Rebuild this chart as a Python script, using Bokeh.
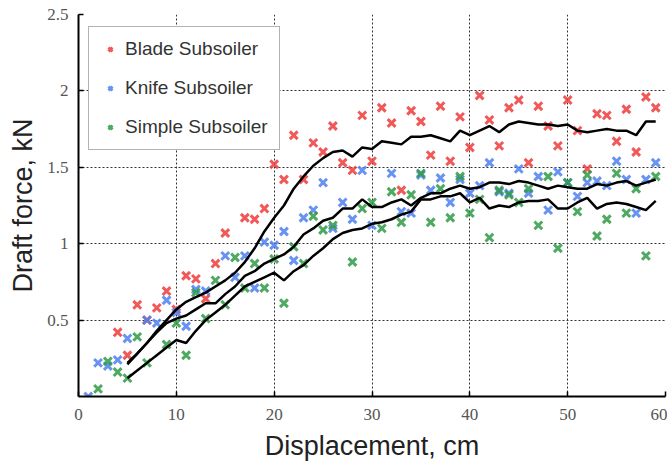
from bokeh.plotting import figure
from bokeh.models import FixedTicker, Legend
from bokeh.embed import file_html
from bokeh.resources import INLINE

# Blade Subsoiler (red)
blade_x = [4, 5, 6, 7, 8, 9, 10, 11, 12, 13, 14, 15, 17, 18, 19, 20, 21, 22, 23, 24, 25, 26,
           27, 28, 29, 30, 31, 32, 33, 34, 35, 36, 37, 38, 39, 40, 41, 42, 43, 44, 45, 46,
           47, 48, 49, 50, 51, 52, 53, 54, 55, 56, 57, 58, 59]
blade_y = [0.42, 0.27, 0.60, 0.50, 0.58, 0.69, 0.57, 0.79, 0.77, 0.64, 0.87, 1.07,
           1.17, 1.16, 1.23, 1.52, 1.42, 1.71, 1.42, 1.66, 1.60, 1.77,
           1.53, 1.48, 1.84, 1.54, 1.89, 1.79, 1.35, 1.87, 1.80, 1.58,
           1.90, 1.54, 1.83, 1.63, 1.97, 1.81, 1.64, 1.89, 1.94, 1.53,
           1.90, 1.77, 1.64, 1.94, 1.74, 1.49, 1.85, 1.84, 1.67, 1.88,
           1.60, 1.96, 1.89]

# Knife Subsoiler (blue)
knife_x = [1, 2, 3, 4, 5, 7, 8, 9, 10, 11, 12, 13, 15, 16, 17, 18, 19, 20, 21, 22, 23, 24,
           25, 26, 27, 28, 29, 30, 32, 33, 34, 35, 36, 37, 38, 39, 40, 41, 42, 43, 44, 45,
           46, 47, 48, 49, 50, 51, 52, 53, 54, 55, 56, 57, 58, 59]
knife_y = [0.00, 0.22, 0.20, 0.24, 0.38, 0.50, 0.48, 0.63, 0.55, 0.46, 0.70, 0.69,
           0.92, 0.78, 0.92, 0.71, 1.01, 0.99, 1.08, 0.89, 1.17, 1.22,
           1.40, 1.10, 1.27, 1.16, 1.48, 1.12, 1.46, 1.21, 1.20, 1.45,
           1.35, 1.43, 1.27, 1.42, 1.33, 1.38, 1.53, 1.34, 1.33, 1.49,
           1.33, 1.44, 1.22, 1.47, 1.40, 1.31, 1.40, 1.41, 1.38, 1.54,
           1.42, 1.20, 1.42, 1.53]

# Simple Subsoiler (green)
simple_x = [2, 3, 4, 5, 6, 7, 9, 10, 11, 12, 13, 14, 15, 16, 17, 18, 19, 20, 21, 22, 23,
            24, 25, 26, 28, 29, 30, 31, 32, 33, 34, 35, 36, 37, 38, 39, 40, 41, 42, 43,
            44, 45, 46, 47, 48, 49, 50, 51, 52, 53, 54, 55, 56, 57, 58, 59]
simple_y = [0.05, 0.23, 0.16, 0.12, 0.39, 0.22, 0.34, 0.48, 0.27, 0.68, 0.51, 0.76,
            0.60, 0.91, 0.71, 0.87, 0.71, 0.90, 0.61, 0.98, 0.87,
            1.18, 1.09, 1.12, 0.88, 1.23, 1.27, 1.10, 1.34, 1.14, 1.32,
            1.46, 1.14, 1.36, 1.17, 1.44, 1.20, 1.29, 1.04, 1.35,
            1.32, 1.27, 1.36, 1.12, 1.44, 0.97, 1.40, 1.21, 1.45, 1.05,
            1.16, 1.46, 1.20, 1.36, 0.92, 1.44]

# Trend lines (x = 5 .. 59)
trend_x = list(range(5, 60))
blade_trend = [0.21, 0.28, 0.35, 0.43, 0.50, 0.57, 0.62, 0.65, 0.68, 0.72,
               0.76, 0.81, 0.88, 0.97, 1.08, 1.17, 1.25, 1.36, 1.44, 1.51,
               1.56, 1.60, 1.61, 1.57, 1.63, 1.62, 1.67, 1.66, 1.65, 1.70,
               1.70, 1.71, 1.69, 1.67, 1.74, 1.71, 1.74, 1.77, 1.73, 1.78,
               1.80, 1.79, 1.78, 1.78, 1.77, 1.78, 1.74, 1.73, 1.74, 1.75,
               1.74, 1.74, 1.71, 1.80, 1.80]
knife_trend = [0.22, 0.28, 0.35, 0.42, 0.48, 0.51, 0.53, 0.57, 0.61, 0.61,
               0.67, 0.72, 0.79, 0.82, 0.87, 0.90, 0.93, 0.98, 1.06, 1.10,
               1.15, 1.17, 1.23, 1.23, 1.29, 1.24, 1.24, 1.27, 1.29, 1.25,
               1.30, 1.33, 1.33, 1.36, 1.38, 1.36, 1.37, 1.40, 1.40, 1.39,
               1.41, 1.40, 1.38, 1.36, 1.38, 1.37, 1.36, 1.36, 1.39, 1.38,
               1.40, 1.41, 1.38, 1.40, 1.42]
simple_trend = [0.12, 0.17, 0.22, 0.27, 0.32, 0.37, 0.35, 0.43, 0.50, 0.55,
                0.60, 0.66, 0.72, 0.75, 0.78, 0.81, 0.76, 0.82, 0.86, 0.92,
                0.97, 1.03, 1.07, 1.09, 1.10, 1.13, 1.14, 1.16, 1.19, 1.21,
                1.29, 1.29, 1.31, 1.31, 1.33, 1.27, 1.30, 1.23, 1.25, 1.24,
                1.27, 1.28, 1.28, 1.29, 1.23, 1.23, 1.27, 1.30, 1.23, 1.26,
                1.27, 1.26, 1.24, 1.22, 1.28]

x_ticks = [0, 10, 20, 30, 40, 50, 60]
y_ticks = [0.5, 1, 1.5, 2, 2.5]
y_labels = {0.5: "0.5", 1: "1", 1.5: "1.5", 2: "2", 2.5: "2.5"}

p = figure(width=667, height=463, x_range=(0, 60), y_range=(0, 2.5),
           output_backend="svg", toolbar_location=None,
           min_border_left=78, min_border_right=2, min_border_top=14, min_border_bottom=66)
p.background_fill_color = "white"
p.border_fill_color = "white"
p.outline_line_color = None

# grids
p.xgrid.ticker = FixedTicker(ticks=x_ticks)
p.ygrid.ticker = FixedTicker(ticks=y_ticks)
for g in (p.xgrid, p.ygrid):
    g.grid_line_color = "#333333"
    g.grid_line_dash = "2 2"
    g.grid_line_width = 1

# axes
p.xaxis.ticker = FixedTicker(ticks=x_ticks)
p.yaxis.ticker = FixedTicker(ticks=y_ticks)
p.yaxis.major_label_overrides = y_labels
for ax in (p.xaxis, p.yaxis):
    ax.axis_line_color = "black"
    ax.axis_line_width = 2
    ax.major_tick_in = 5
    ax.major_tick_out = 0
    ax.major_tick_line_color = "black"
    ax.major_tick_line_width = 1.5
    ax.minor_tick_line_color = None
    ax.major_label_text_font = "Liberation Serif"
    ax.major_label_text_font_size = "17px"
    ax.major_label_text_color = "#555555"
    ax.axis_label_text_font = "Liberation Sans"
    ax.axis_label_text_font_size = "27px"
    ax.axis_label_text_font_style = "normal"
    ax.axis_label_text_color = "#222222"
p.xaxis.axis_label = "Displacement, cm"
p.yaxis.axis_label = "Draft force, kN"
p.xaxis.major_label_standoff = 12
p.yaxis.major_label_standoff = 10
p.xaxis.axis_label_standoff = 8
p.yaxis.axis_label_standoff = 6

mk = dict(marker="x", size=11, line_width=3, alpha=0.85)
r1 = p.scatter(blade_x, blade_y, line_color="#ee3b3b", **mk)
r2 = p.scatter(knife_x, knife_y, line_color="#4f80f0", **mk)
r3 = p.scatter(simple_x, simple_y, line_color="#2f9a45", **mk)

for ys in (blade_trend, knife_trend, simple_trend):
    p.line(trend_x, ys, line_color="black", line_width=2.5)

legend = Legend(items=[("Blade Subsoiler", [r1]), ("Knife Subsoiler", [r2]),
                       ("Simple Subsoiler", [r3])],
                location=(10, 246))
legend.label_text_font = "Liberation Sans"
legend.label_text_font_size = "19px"
legend.label_text_color = "#333333"
legend.label_height = 22
legend.glyph_height = 14
legend.glyph_width = 20
legend.spacing = 17
legend.padding = 11
legend.margin = 0
legend.label_standoff = 5
legend.border_line_color = "#666666"
legend.border_line_width = 1.5
legend.background_fill_color = "white"
legend.background_fill_alpha = 1
p.add_layout(legend, "center")

open("out.html", "w").write(file_html(p, INLINE))
